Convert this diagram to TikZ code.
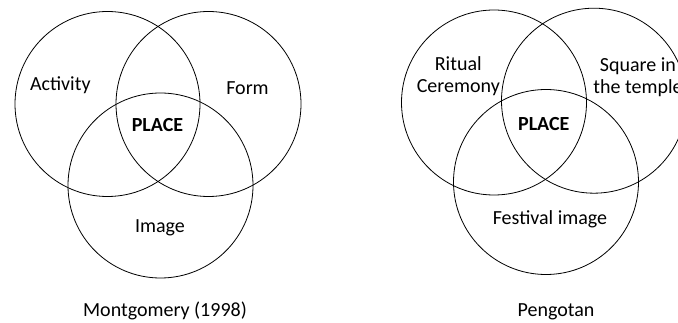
\documentclass[tikz,border=0pt]{standalone}
\usepackage{fontspec}
\setmainfont{Carlito}
\begin{document}
\begin{tikzpicture}[x=1pt,y=-1pt,
  ring/.style={draw=black,line width=0.8pt,circle,minimum size=185pt,inner sep=0pt},
  lbl/.style={inner sep=0pt,anchor=base,align=center,font=\fontsize{20}{22}\selectfont},
  core/.style={lbl,font=\fontsize{20}{22}\selectfont\bfseries}]
\useasboundingbox (0,0) rectangle (678,323);

% Montgomery (1998)
\node[ring] (act) at (107.5,104) {};
\node[ring] (frm) at (208.5,104) {};
\node[ring] (img) at (160.5,185.5) {};
\node[lbl] (tact) at (60.3,91) {Activity};
\node[lbl] (tfrm) at (247.5,95) {Form};
\node[core] (tplace1) at (157.5,131.7) {PLACE};
\node[lbl] (timg) at (160,232.7) {Image};
\node[lbl] (cap1) at (165,317) {Montgomery (1998)};

% Pengotan (two-line labels: base is the last line)
\node[ring] (rit) at (494,102.5) {};
\node[ring] (sq) at (594,100.7) {};
\node[ring] (fest) at (546,182) {};
\node[lbl] (trit) at (458.3,93) {Ritual\\Ceremony};
\node[lbl] (tsq) at (638,93.5) {Square in\\the temple};
\node[core] (tplace2) at (543.8,130.7) {PLACE};
\node[lbl] (tfest) at (550,225) {Festival image};
\node[lbl] (cap2) at (556,316.7) {Pengotan};
\end{tikzpicture}
\end{document}
